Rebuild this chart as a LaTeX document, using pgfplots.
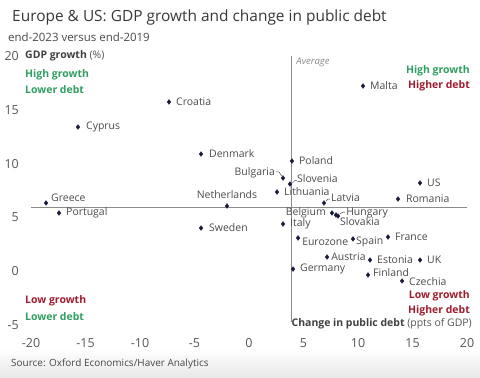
\documentclass[border=0pt]{standalone}
\usepackage{pgfplots}
\pgfplotsset{compat=1.18}
\usepackage{fontspec}
\setmainfont{Open Sans}
\definecolor{labgray}{HTML}{4A4A4A}
\definecolor{tickgray}{HTML}{555555}
\definecolor{qgreen}{HTML}{2F9E62}
\definecolor{qred}{HTML}{A01C2C}
\definecolor{mk}{HTML}{161B3A}
\definecolor{avg}{HTML}{8A8A8A}
\tikzset{lab/.style={anchor=west, inner sep=0pt, font=\fontsize{10.5}{12}\selectfont, text=labgray}}
\begin{document}
\begin{tikzpicture}[x=1bp,y=1bp]
\path[use as bounding box] (0,0) rectangle (480,377);
\shade[top color=white,bottom color=black!9] (0,0) rectangle (480,28);
\begin{axis}[
  at={(31bp,52bp)}, anchor=south west,
  scale only axis, width=436bp, height=269bp,
  xmin=-20, xmax=20, ymin=-5, ymax=20,
  axis line style={draw=none},
  major tick length=0pt,
  xtick={-20,-15,...,20}, ytick={-5,0,...,20},
  /pgf/number format/assume math mode=true,
  tick label style={font=\fontsize{12.5}{14}\selectfont, text=tickgray},
  yticklabel style={anchor=east, inner sep=0pt, xshift=-12bp},
  xticklabel style={anchor=north, inner sep=0pt, yshift=-13bp},
  clip=false,
]
% average lines
\addplot[avg, line width=0.8pt] coordinates {(-20,5.95) (20,5.95)};
\addplot[avg, line width=0.8pt] coordinates {(3.85,-4.7) (3.85,20)};
% connectors
\addplot[labgray, line width=0.5pt] coordinates {(2.48,9.22) (2.75,9.22) (3.0,8.85)};
\addplot[labgray, line width=0.5pt] coordinates {(3.98,8.2) (4.2,8.42) (4.4,8.42)};
\addplot[labgray, line width=0.5pt] coordinates {(7.06,6.52) (7.25,6.71) (7.43,6.71)};
\addplot[labgray, line width=0.5pt] coordinates {(8.35,5.32) (8.62,5.50) (8.81,5.50)};
% markers
\addplot[only marks, mark=diamond*, mark size=2.4pt, color=mk] table {
x y
-7.34 15.73
-15.69 13.40
-4.40 10.89
-18.62 6.34
-17.43 5.41
-2.02 6.06
-4.40 4.01
10.46 17.21
3.94 10.24
3.12 8.66
3.76 8.10
2.57 7.36
6.88 6.34
15.69 8.20
13.67 6.71
7.61 5.41
7.98 5.22
8.17 5.13
3.12 4.39
4.50 3.09
9.54 3.00
12.75 3.18
7.16 1.32
11.10 1.04
15.69 1.04
4.04 0.20
10.92 -0.35
14.04 -0.91
};
% labels
\node[lab, xshift=7bp] at (axis cs:-7.34,15.73) {Croatia};
\node[lab, xshift=8bp] at (axis cs:-15.69,13.40) {Cyprus};
\node[lab, xshift=8bp] at (axis cs:-4.40,10.89) {Denmark};
\node[lab, xshift=5bp, yshift=5bp] at (axis cs:-18.62,6.34) {Greece};
\node[lab, xshift=7bp] at (axis cs:-17.43,5.41) {Portugal};
\node[lab, anchor=center, yshift=11bp] at (axis cs:-2.02,6.06) {Netherlands};
\node[lab, xshift=8bp] at (axis cs:-4.40,4.01) {Sweden};
\node[lab, xshift=7bp] at (axis cs:10.46,17.21) {Malta};
\node[lab, xshift=7bp] at (axis cs:3.94,10.24) {Poland};
\node[lab, anchor=east, xshift=-8bp, yshift=5bp] at (axis cs:3.12,8.66) {Bulgaria};
\node[lab, xshift=7bp, yshift=5bp] at (axis cs:3.76,8.10) {Slovenia};
\node[lab, xshift=7bp] at (axis cs:2.57,7.36) {Lithuania};
\node[lab, xshift=7bp, yshift=5bp] at (axis cs:6.88,6.34) {Latvia};
\node[lab, xshift=7bp] at (axis cs:15.69,8.20) {US};
\node[lab, xshift=8bp] at (axis cs:13.67,6.71) {Romania};
\node[lab, anchor=east, xshift=-6bp] at (axis cs:7.61,5.41) {Belgium};
\node[lab, xshift=8bp, yshift=3bp] at (axis cs:8.17,5.13) {Hungary};
\node[lab, xshift=4bp, yshift=-7bp] at (axis cs:7.98,5.22) {Slovakia};
\node[lab, xshift=7bp] at (axis cs:3.12,4.39) {Italy};
\node[lab, xshift=4bp, yshift=-4bp] at (axis cs:4.50,3.09) {Eurozone};
\node[lab, xshift=3bp, yshift=-3bp] at (axis cs:9.54,3.00) {Spain};
\node[lab, xshift=7bp] at (axis cs:12.75,3.18) {France};
\node[lab, xshift=4bp] at (axis cs:7.16,1.32) {Austria};
\node[lab, xshift=7bp] at (axis cs:11.10,1.04) {Estonia};
\node[lab, xshift=7bp] at (axis cs:15.69,1.04) {UK};
\node[lab, xshift=7bp] at (axis cs:4.04,0.20) {Germany};
\node[lab, xshift=5bp, yshift=2bp] at (axis cs:10.92,-0.35) {Finland};
\node[lab, xshift=7bp, yshift=-1bp] at (axis cs:14.04,-0.91) {Czechia};
\end{axis}
% titles and annotations
\node[anchor=west, inner sep=0pt, font=\fontsize{15.5}{18}\selectfont, text=black!78] at (12,360) {Europe \& US: GDP growth and change in public debt};
\node[anchor=west, inner sep=0pt, font=\fontsize{11.5}{14}\selectfont, text=black!72] at (8,340) {end-2023 versus end-2019};
\node[anchor=west, inner sep=0pt, font=\fontsize{10.5}{12}\selectfont, text=black!75] at (25,321) {\textbf{GDP growth} {\color{tickgray}(\%)}};
\node[anchor=east, inner sep=0pt, font=\fontsize{10.5}{12}\selectfont, text=black!75] at (472,53) {\textbf{Change in public debt} {\color{tickgray}(ppts of GDP)}};
\node[anchor=west, inner sep=0pt, font=\fontsize{10}{12}\selectfont, text=black!72] at (11,13) {Source: Oxford Economics/Haver Analytics};
\node[inner sep=0pt, font=\fontsize{9.5}{11}\itshape, text=avg] at (313,315) {Average};
\begin{scope}[every node/.style={inner sep=0pt, font=\fontsize{10.5}{12}\bfseries}]
\node[anchor=west, text=qgreen] at (25,302) {High growth};
\node[anchor=west, text=qgreen] at (25,287) {Lower debt};
\node[anchor=east, text=qgreen] at (470,306) {High growth};
\node[anchor=east, text=qred] at (470,291) {Higher debt};
\node[anchor=west, text=qred] at (25,76) {Low growth};
\node[anchor=west, text=qgreen] at (25,60) {Lower debt};
\node[anchor=east, text=qred] at (470,81) {Low growth};
\node[anchor=east, text=qred] at (470,66) {Higher debt};
\end{scope}
\end{tikzpicture}
\end{document}
